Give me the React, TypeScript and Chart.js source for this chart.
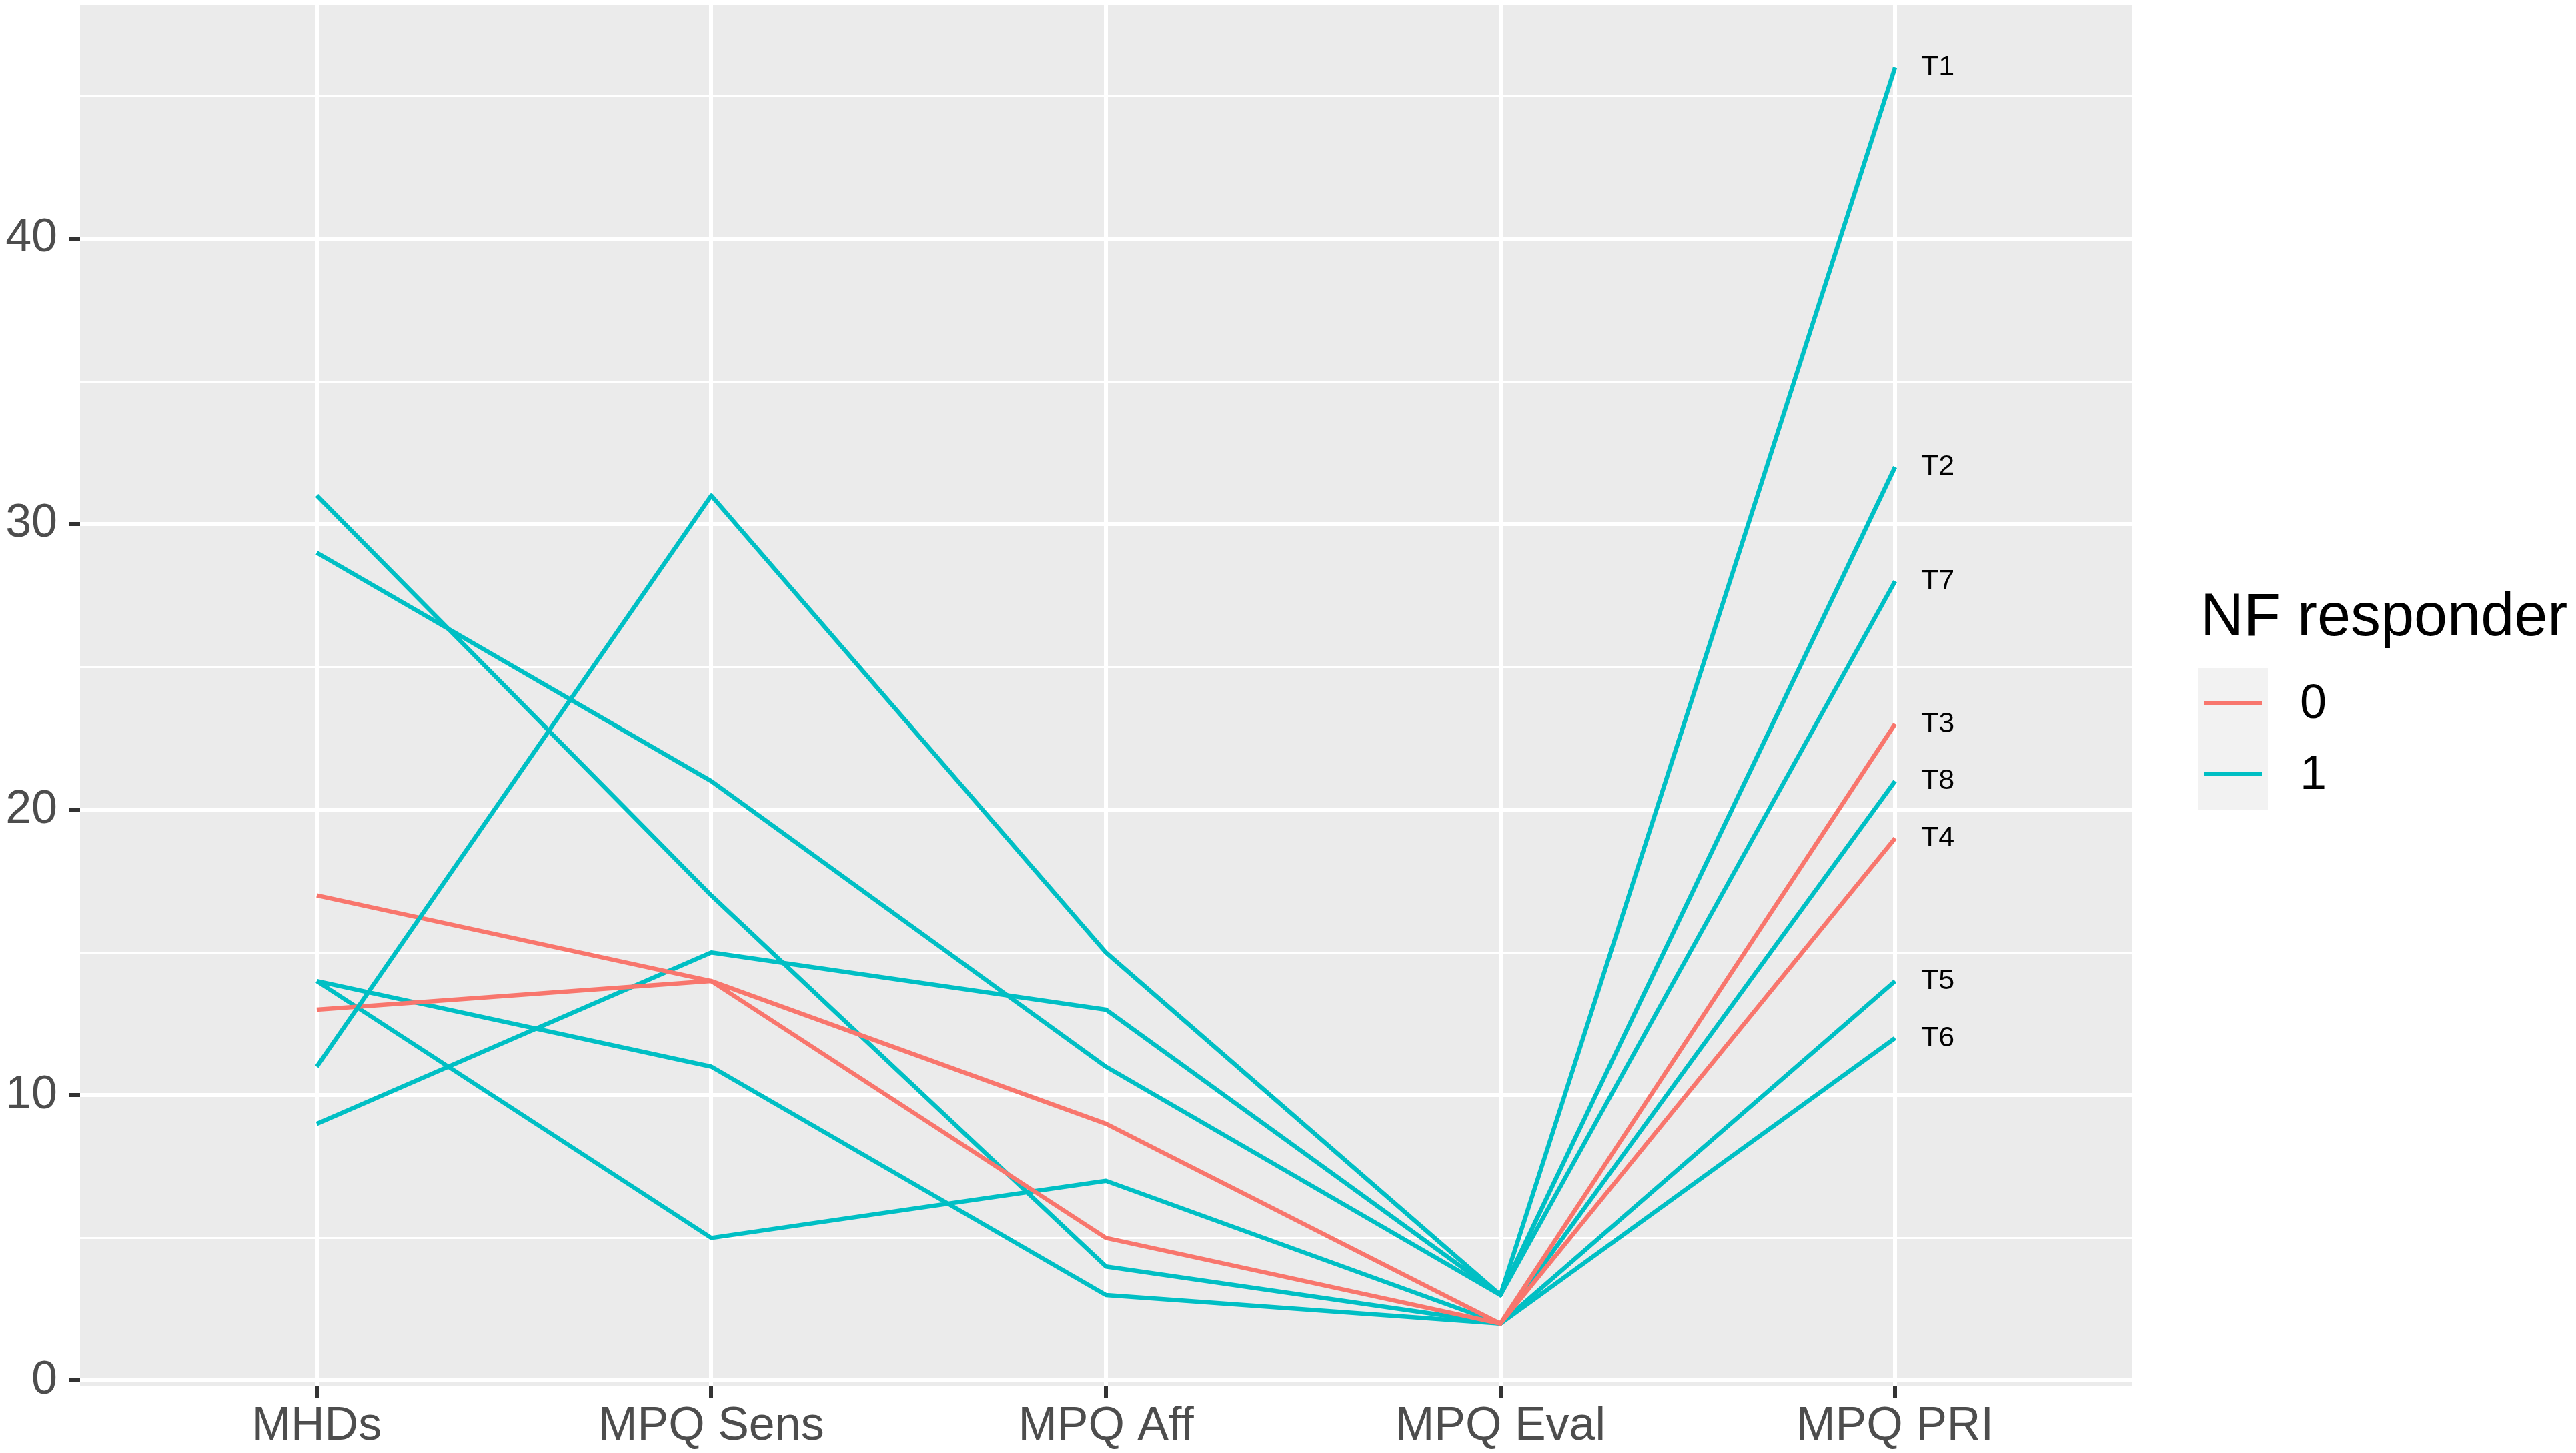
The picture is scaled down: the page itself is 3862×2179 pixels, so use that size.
import React, { useEffect, useRef } from 'react';
import Chart from 'chart.js/auto';

// --- data ---
const categories = ['MHDs', 'MPQ Sens', 'MPQ Aff', 'MPQ Eval', 'MPQ PRI'];
const subjects = ['T1', 'T2', 'T3', 'T4', 'T5', 'T6', 'T7', 'T8'];
const responder = [1, 1, 0, 0, 1, 1, 1, 1];

const t1 = [11, 31, 15, 3, 46];
const t2 = [29, 21, 11, 3, 32];
const t3 = [17, 14, 9, 2, 23];
const t4 = [13, 14, 5, 2, 19];
const t5 = [14, 11, 3, 2, 14];
const t6 = [14, 5, 7, 2, 12];
const t7 = [9, 15, 13, 3, 28];
const t8 = [31, 17, 4, 2, 21];
const scores = [t1, t2, t3, t4, t5, t6, t7, t8];

const yTicks = [0, 5, 10, 15, 20, 25, 30, 35, 40, 45];
const legendTitle = 'NF responder';
const legendLabels = ['0', '1'];

const palette = ['#F8766D', '#00BFC4'];
const FONT = '"Liberation Sans", Arial, sans-serif';

// grey panel behind the grid
const panelBg = {
  id: 'panelBg',
  beforeDraw(chart) {
    const { ctx, chartArea: a } = chart;
    ctx.save();
    ctx.fillStyle = '#FFFFFF';
    ctx.fillRect(0, 0, chart.width, chart.height);
    ctx.fillStyle = '#EBEBEB';
    ctx.fillRect(a.left, a.top, a.right - a.left, a.bottom - a.top);
    ctx.restore();
  },
};

// T1..T8 next to the last point of each line
const endLabels = {
  id: 'endLabels',
  afterDatasetsDraw(chart) {
    const { ctx } = chart;
    ctx.save();
    ctx.font = `43px ${FONT}`;
    ctx.fillStyle = '#000000';
    ctx.textAlign = 'left';
    ctx.textBaseline = 'middle';
    chart.data.datasets.forEach((ds, i) => {
      const pts = chart.getDatasetMeta(i).data;
      const last = pts[pts.length - 1];
      ctx.fillText(subjects[i], last.x + 39, last.y);
    });
    ctx.restore();
  },
};

// ggplot-style legend on the right
const sideLegend = {
  id: 'sideLegend',
  afterDraw(chart) {
    const { ctx } = chart;
    const left = chart.chartArea.right + 100;
    ctx.save();
    ctx.fillStyle = '#000000';
    ctx.font = `90px ${FONT}`;
    ctx.textAlign = 'left';
    ctx.textBaseline = 'alphabetic';
    ctx.fillText(legendTitle, left + 3, 953);

    const keyTop = 1002;
    const keyH = 106;
    const keyW = 104;
    legendLabels.forEach((lab, i) => {
      const y0 = keyTop + i * keyH;
      ctx.fillStyle = '#F2F2F2';
      ctx.fillRect(left, y0, keyW, keyH);
      ctx.strokeStyle = palette[i];
      ctx.lineWidth = 6;
      ctx.beginPath();
      ctx.moveTo(left + 9, y0 + keyH / 2);
      ctx.lineTo(left + keyW - 9, y0 + keyH / 2);
      ctx.stroke();
      ctx.fillStyle = '#000000';
      ctx.font = `72px ${FONT}`;
      ctx.textBaseline = 'middle';
      ctx.fillText(lab, left + keyW + 48, y0 + keyH / 2 + 2);
    });
    ctx.restore();
  },
};

export default function App() {
  const canvasRef = useRef(null);
  const chartRef = useRef(null);

  useEffect(() => {
    document.body.style.margin = '0';
    document.body.style.overflow = 'hidden';
    if (!canvasRef.current) return;
    if (chartRef.current) chartRef.current.destroy();

    const datasets = scores.map((row, i) => ({
      label: subjects[i],
      data: row.map((v, j) => ({ x: j, y: v })),
      borderColor: palette[responder[i]],
      backgroundColor: palette[responder[i]],
      borderWidth: 6.5,
      borderJoinStyle: 'round',
      borderCapStyle: 'butt',
      pointRadius: 0,
      tension: 0,
    }));

    chartRef.current = new Chart(canvasRef.current, {
      type: 'line',
      data: { datasets },
      options: {
        responsive: false,
        devicePixelRatio: 1,
        animation: false,
        events: [],
        layout: { padding: { top: 7, right: 666, left: 0, bottom: 0 } },
        plugins: {
          legend: { display: false },
          tooltip: { enabled: false },
        },
        scales: {
          x: {
            type: 'linear',
            min: -0.6,
            max: 4.6,
            afterBuildTicks: (scale) => {
              scale.ticks = categories.map((_, i) => ({ value: i }));
            },
            afterFit: (scale) => {
              scale.height = 100;
              scale.paddingLeft = 0;
              scale.paddingRight = 0;
            },
            border: { display: false },
            grid: {
              color: '#FFFFFF',
              lineWidth: 6,
              drawTicks: true,
              tickLength: 17,
              tickColor: '#333333',
              tickWidth: 6,
            },
            ticks: {
              autoSkip: false,
              maxRotation: 0,
              padding: 2,
              color: '#4D4D4D',
              font: { family: FONT, size: 70 },
              callback: (v) => categories[v] ?? '',
            },
          },
          y: {
            type: 'linear',
            min: -0.2,
            max: 48.2,
            afterBuildTicks: (scale) => {
              scale.ticks = yTicks.map((v) => ({ value: v }));
            },
            afterFit: (scale) => {
              scale.width = 120;
              scale.paddingTop = 0;
              scale.paddingBottom = 0;
            },
            border: { display: false },
            grid: {
              color: '#FFFFFF',
              lineWidth: (c) => (c.tick && c.tick.value % 10 === 0 ? 6 : 3),
              drawTicks: true,
              tickLength: 17,
              tickColor: (c) =>
                c.tick && c.tick.value % 10 === 0 ? '#333333' : 'rgba(0,0,0,0)',
              tickWidth: 6,
            },
            ticks: {
              autoSkip: false,
              padding: 17,
              color: '#4D4D4D',
              font: { family: FONT, size: 70 },
              callback: (v) => (v % 10 === 0 ? String(v) : ''),
            },
          },
        },
      },
      plugins: [panelBg, endLabels, sideLegend],
    });

    return () => {
      if (chartRef.current) {
        chartRef.current.destroy();
        chartRef.current = null;
      }
    };
  }, []);

  return (
    <div style={{ width: 3862, height: 2179, background: '#FFFFFF' }}>
      <canvas ref={canvasRef} width={3862} height={2179} />
    </div>
  );
}
